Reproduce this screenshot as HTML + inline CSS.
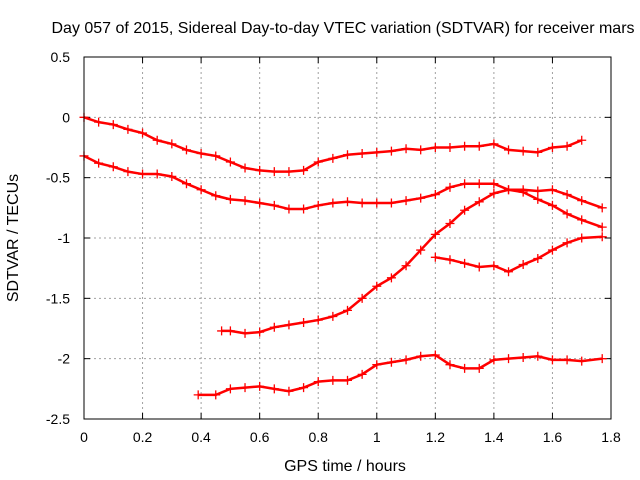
<!DOCTYPE html>
<html><head><meta charset="utf-8"><style>
body{margin:0;background:#fff;}
svg{display:block;font-family:"Liberation Sans",sans-serif;}
</style></head><body>
<svg id="chart" width="640" height="480">
<text x="343" y="33" font-size="16" text-anchor="middle" fill="#000">Day 057 of 2015, Sidereal Day-to-day VTEC variation (SDTVAR) for receiver mars</text>
<text x="0" y="0" font-size="16" text-anchor="middle" transform="translate(18,238) rotate(-90)">SDTVAR / TECUs</text>
<text x="345" y="471" font-size="16" text-anchor="middle">GPS time / hours</text>
<g id="grid"></g><g id="ticks"></g><g id="series"></g>
<rect x="84" y="57" width="527" height="362" fill="none" stroke="#000" stroke-width="1"/>
</svg>
<script>
const xTicks=[0,0.2,0.4,0.6,0.8,1,1.2,1.4,1.6,1.8];
const xTickLabels=["0","0.2","0.4","0.6","0.8","1","1.2","1.4","1.6","1.8"];
const yTicks=[0.5,0,-0.5,-1,-1.5,-2,-2.5];
const yTickLabels=["0.5","0","-0.5","-1","-1.5","-2","-2.5"];
const s1x=[0,0.05,0.1,0.15,0.2,0.25,0.3,0.35,0.4,0.45,0.5,0.55,0.6,0.65,0.7,0.75,0.8,0.85,0.9,0.95,1.0,1.05,1.1,1.15,1.2,1.25,1.3,1.35,1.4,1.45,1.5,1.55,1.6,1.65,1.7];
const s1y=[0,-0.04,-0.06,-0.10,-0.13,-0.19,-0.22,-0.27,-0.30,-0.32,-0.37,-0.42,-0.44,-0.45,-0.45,-0.44,-0.37,-0.34,-0.31,-0.30,-0.29,-0.28,-0.26,-0.27,-0.25,-0.25,-0.24,-0.24,-0.22,-0.27,-0.28,-0.29,-0.25,-0.24,-0.19];
const s2x=[0,0.05,0.1,0.15,0.2,0.25,0.3,0.35,0.4,0.45,0.5,0.55,0.6,0.65,0.7,0.75,0.8,0.85,0.9,0.95,1.0,1.05,1.1,1.15,1.2,1.25,1.3,1.35,1.4,1.45,1.5,1.55,1.6,1.65,1.7,1.77];
const s2y=[-0.32,-0.38,-0.41,-0.45,-0.47,-0.47,-0.49,-0.55,-0.60,-0.65,-0.68,-0.69,-0.71,-0.73,-0.76,-0.76,-0.73,-0.71,-0.70,-0.71,-0.71,-0.71,-0.69,-0.67,-0.64,-0.58,-0.55,-0.55,-0.55,-0.60,-0.60,-0.61,-0.60,-0.64,-0.69,-0.75];
const s3x=[0.47,0.5,0.55,0.6,0.65,0.7,0.75,0.8,0.85,0.9,0.95,1.0,1.05,1.1,1.15,1.2,1.25,1.3,1.35,1.4,1.45,1.5,1.55,1.6,1.65,1.7,1.77];
const s3y=[-1.77,-1.77,-1.79,-1.78,-1.74,-1.72,-1.70,-1.68,-1.65,-1.60,-1.50,-1.40,-1.33,-1.23,-1.10,-0.97,-0.88,-0.77,-0.70,-0.63,-0.60,-0.62,-0.68,-0.73,-0.80,-0.85,-0.91];
const s4x=[1.2,1.25,1.3,1.35,1.4,1.45,1.5,1.55,1.6,1.65,1.7,1.77];
const s4y=[-1.16,-1.18,-1.21,-1.24,-1.23,-1.28,-1.22,-1.17,-1.10,-1.04,-1.00,-0.99];
const s5x=[0.39,0.45,0.5,0.55,0.6,0.65,0.7,0.75,0.8,0.85,0.9,0.95,1.0,1.05,1.1,1.15,1.2,1.25,1.3,1.35,1.4,1.45,1.5,1.55,1.6,1.65,1.7,1.77];
const s5y=[-2.30,-2.30,-2.25,-2.24,-2.23,-2.25,-2.27,-2.24,-2.19,-2.18,-2.18,-2.13,-2.05,-2.03,-2.01,-1.98,-1.97,-2.05,-2.08,-2.08,-2.01,-2.00,-1.99,-1.98,-2.01,-2.01,-2.02,-2.00];
const NS="http://www.w3.org/2000/svg";
const X=v=>84+v/1.8*527, Y=v=>57+(0.5-v)/3*362;
function mk(tag,attrs,parent){const e=document.createElementNS(NS,tag);for(const k in attrs)e.setAttribute(k,attrs[k]);parent.appendChild(e);return e;}
const grid=document.getElementById('grid'),ticks=document.getElementById('ticks'),ser=document.getElementById('series');
xTicks.forEach((v,i)=>{
 if(i>0&&i<xTicks.length-1){const g=mk('line',{x1:X(v),x2:X(v),y1:57,y2:419,stroke:'#a0a0a0','stroke-dasharray':'2,3'},grid);
 
 }
 mk('line',{x1:X(v),x2:X(v),y1:419,y2:413,stroke:'#000'},ticks);
 mk('line',{x1:X(v),x2:X(v),y1:57,y2:63,stroke:'#000'},ticks);
 const t=mk('text',{x:X(v),y:442,'font-size':14,'text-anchor':'middle'},ticks);t.textContent=xTickLabels[i];
 
 
});
yTicks.forEach((v,i)=>{
 if(i>0&&i<yTicks.length-1){const g=mk('line',{x1:84,x2:611,y1:Y(v),y2:Y(v),stroke:'#a0a0a0','stroke-dasharray':'2,3'},grid);
 
 }
 mk('line',{x1:84,x2:90,y1:Y(v),y2:Y(v),stroke:'#000'},ticks);
 mk('line',{x1:605,x2:611,y1:Y(v),y2:Y(v),stroke:'#000'},ticks);
 const t=mk('text',{x:70,y:Y(v)+5,'font-size':14,'text-anchor':'end'},ticks);t.textContent=yTickLabels[i];
 
 
});
[[s1x,s1y],[s2x,s2y],[s3x,s3y],[s4x,s4y],[s5x,s5y]].forEach((s,k)=>{
 const g=mk('g',{},ser);
 
 
 const pts=s[0].map((x,i)=>X(x)+','+Y(s[1][i])).join(' ');
 mk('polyline',{points:pts,fill:'none',stroke:'#ff0000','stroke-width':2.5},g);
 s[0].forEach((x,i)=>{const cx=X(x),cy=Y(s[1][i]);
  mk('path',{d:`M${cx-4.5},${cy}h9M${cx},${cy-4.5}v9`,stroke:'#ff0000','stroke-width':1.3},g);});
});
</script>
</body></html>
